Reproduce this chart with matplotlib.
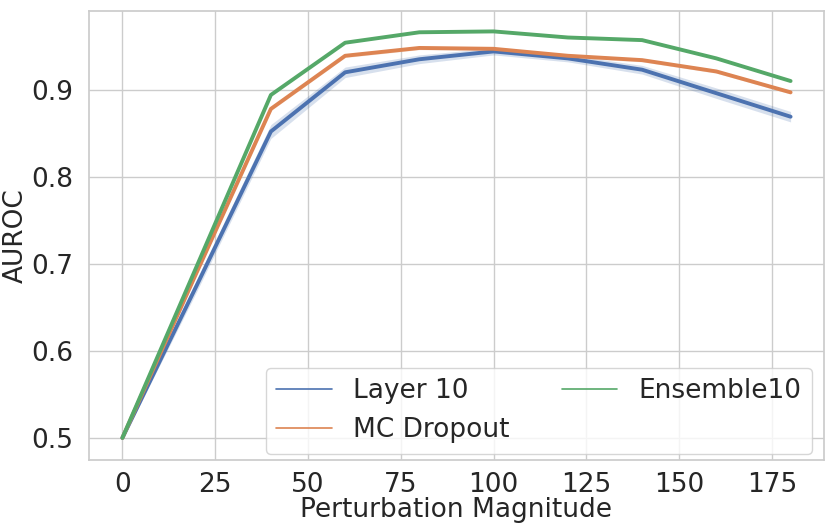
import numpy as np
import matplotlib
matplotlib.use("Agg")
import matplotlib.pyplot as plt
import seaborn as sns
from matplotlib.lines import Line2D

magnitudes = [0, 20, 40, 60, 80, 100, 120, 140, 160, 180]
layer10 = [0.500, 0.675, 0.852, 0.920, 0.935, 0.944, 0.936, 0.923, 0.896, 0.869]
layer10_std = [0.002, 0.007, 0.008, 0.006, 0.005, 0.004, 0.004, 0.005, 0.006, 0.006]
mc_dropout = [0.500, 0.690, 0.878, 0.939, 0.948, 0.947, 0.939, 0.934, 0.921, 0.897]
mc_dropout_std = [0.001, 0.002, 0.002, 0.002, 0.002, 0.002, 0.002, 0.002, 0.002, 0.002]
ensemble10 = [0.500, 0.697, 0.894, 0.954, 0.966, 0.967, 0.960, 0.957, 0.936, 0.910]

labels = ["Layer 10", "MC Dropout", "Ensemble10"]

sns.set_theme(style="whitegrid")
plt.rcParams["font.family"] = ["DejaVu Sans"]
colors = sns.color_palette("deep")
fs = 19

fig, ax = plt.subplots(figsize=(8.31, 5.25), dpi=100)
fig.subplots_adjust(left=89 / 831, right=824 / 831, top=1 - 11 / 525, bottom=1 - 460 / 525)

x = np.array(magnitudes)
series = [(layer10, layer10_std), (mc_dropout, mc_dropout_std), (ensemble10, None)]
for (vals, std), c in zip(series, colors[:3]):
    vals = np.array(vals)
    ax.plot(x, vals, color=c, lw=2.8)
    if std is not None:
        std = np.array(std)
        ax.fill_between(x, vals - std, vals + std, color=c, alpha=0.22, lw=0)

ax.set_xticks([0, 25, 50, 75, 100, 125, 150, 175])
ax.set_yticks([0.5, 0.6, 0.7, 0.8, 0.9])
ax.tick_params(axis="x", labelsize=fs, pad=3)
ax.tick_params(axis="y", labelsize=fs, pad=5)
ax.set_xlabel("Perturbation Magnitude", fontsize=fs, labelpad=-1)
ax.set_ylabel("AUROC", fontsize=fs, labelpad=2)

# legend handles are drawn thinner than the plotted lines
handles = [Line2D([], [], color=c, lw=1.2) for c in colors[:3]]
ax.legend(handles, labels, ncol=2, loc="lower right", fontsize=fs,
          bbox_to_anchor=(0.9837, 0.0134), borderaxespad=0,
          columnspacing=2.0, handlelength=2.1)

fig.savefig("out.png", dpi=100)
